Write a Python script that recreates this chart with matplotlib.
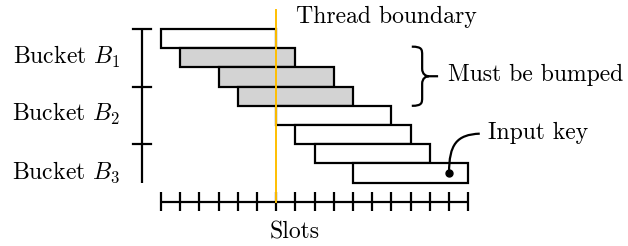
import matplotlib
matplotlib.use("Agg")
import matplotlib.pyplot as plt
from matplotlib.patches import Rectangle, PathPatch
from matplotlib.path import Path

plt.rcParams["font.family"] = "cmr10"
plt.rcParams["mathtext.fontset"] = "cm"
plt.rcParams["axes.unicode_minus"] = False

# ── Data (slot units / row units) ─────────────────────────────────────
bar_start = [0, 1, 3, 4, 6, 7, 8, 10]
bar_len = 6
bar_shaded = [False, True, True, True, False, False, False, False]
n_slots = 16
boundary_slot = 6
bucket_rows = 3
bucket_labels = ["Bucket $B_1$", "Bucket $B_2$", "Bucket $B_3$"]
key_slot = 15
key_row = 7

C_LINE = "black"
C_GRAY = "#D3D3D3"
C_YELLOW = "#FFBF00"
LW = 1.6
FS = 17.1

fig = plt.figure(figsize=(6.28, 2.46), dpi=100)
ax = fig.add_axes([0, 0, 1, 1])
ax.set_xlim(-8.385, 24.32)
ax.set_ylim(11.30, -1.51)
ax.axis("off")

# bars
for r, (s, sh) in enumerate(zip(bar_start, bar_shaded)):
    ax.add_patch(Rectangle((s, r), bar_len, 1, facecolor=C_GRAY if sh else "white",
                           edgecolor=C_LINE, linewidth=LW, zorder=2))

# thread boundary line
ax.plot([boundary_slot, boundary_slot], [-1, 9], color=C_YELLOW,
        linewidth=1.4, zorder=3)
ax.text(boundary_slot + 1.05, -0.62, "Thread boundary", fontsize=FS,
        ha="left", va="center")

# bucket axis
n_rows = len(bar_start)
ax.plot([-1, -1], [0, n_rows], color=C_LINE, linewidth=LW, solid_capstyle="butt")
for b in range(len(bucket_labels)):
    y = b * bucket_rows
    ax.plot([-1.47, -0.53], [y, y], color=C_LINE, linewidth=LW)
    ax.text(-2.1, y + 1.45, bucket_labels[b], fontsize=FS, ha="right", va="center")

# slots axis
ax.plot([0, n_slots], [9, 9], color=C_LINE, linewidth=LW, solid_capstyle="butt")
for i in range(n_slots + 1):
    ax.plot([i, i], [8.5, 9.5], color=C_LINE, linewidth=LW, solid_capstyle="butt")
ax.text(6.98, 10.57, "Slots", fontsize=FS, ha="center", va="center")

# brace for "Must be bumped"
x0, xs, xt = 13.06, 13.6, 14.43
y0, y1 = 0.92, 4.0
ym = (y0 + y1) / 2
verts = [
    (x0, y0), (xs, y0), (xs, y0 + 0.15), (xs, y0 + 0.45),
    (xs, ym - 0.4),
    (xs, ym - 0.1), (xs + 0.2, ym), (xs + 0.35, ym),
    (xt, ym),
    (xs + 0.35, ym),
    (xs + 0.2, ym), (xs, ym + 0.1), (xs, ym + 0.4),
    (xs, y1 - 0.45),
    (xs, y1 - 0.15), (xs, y1), (x0, y1),
]
codes = [Path.MOVETO, Path.CURVE4, Path.CURVE4, Path.CURVE4,
         Path.LINETO,
         Path.CURVE4, Path.CURVE4, Path.CURVE4,
         Path.LINETO,
         Path.MOVETO,
         Path.CURVE4, Path.CURVE4, Path.CURVE4,
         Path.LINETO,
         Path.CURVE4, Path.CURVE4, Path.CURVE4]
ax.add_patch(PathPatch(Path(verts, codes), facecolor="none", edgecolor=C_LINE,
                       linewidth=LW, capstyle="butt"))
ax.text(14.95, ym - 0.05, "Must be bumped", fontsize=FS, ha="left", va="center")

# input key
ky = key_row + 0.5
ax.plot([key_slot], [ky], "o", color=C_LINE, markersize=5, zorder=4)
curve = Path([(key_slot, ky), (key_slot, 6.0), (key_slot + 0.4, 5.5), (16.6, 5.45)],
             [Path.MOVETO, Path.CURVE4, Path.CURVE4, Path.CURVE4])
ax.add_patch(PathPatch(curve, facecolor="none", edgecolor=C_LINE, linewidth=LW,
                       zorder=3))
ax.text(17.03, 5.43, "Input key", fontsize=FS, ha="left", va="center")

fig.savefig("out.png", dpi=100, facecolor="white")
